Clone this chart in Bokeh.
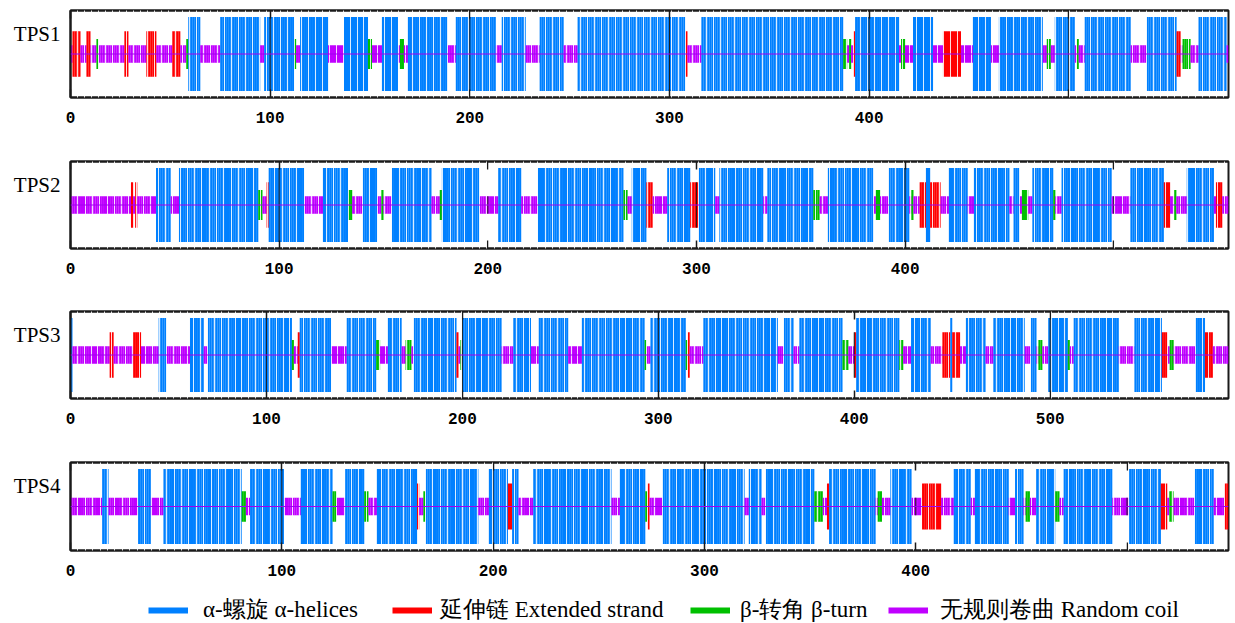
from bokeh.plotting import figure
from bokeh.models import (ColumnDataSource, FixedTicker, SingleIntervalTicker, LinearAxis,
                          Grid, Span, Legend, LegendItem, Range1d)
from bokeh.layouts import column
from bokeh.embed import file_html
from bokeh.resources import INLINE

# ---------------- data (run-length secondary structure) ----------------
protein_names = ["TPS1", "TPS2", "TPS3", "TPS4"]

TPS1_runs = ("c1 e4 c3 e2 c3 t1 c13 e2 c9 e5 c8 e4 c3 t1 h6 c10 h20 c2 h15 t1 c2 h14 c8 h12 t2 c5 "
             "h8 c1 t2 c2 h20 c4 h20 c3 h12 c7 h12 c7 h54 e1 c7 h71 t2 c1 t1 c1 e1 h22 c1 t2 c4 h10 "
             "c5 e9 c6 h9 c4 h22 c2 t2 c2 h10 c1 t1 c3 h23 c8 h15 e2 c1 t4 c4 h14 c1").split()
TPS2_runs = ("c29 e1 c1 e1 c9 h7 c4 h38 t2 c2 e1 h17 c9 h12 t2 c5 h7 c2 t1 c4 h19 c4 t1 h18 c9 h11 "
             "c8 h41 t2 c2 h7 e3 c7 h11 e4 h8 c2 h21 c2 h22 t3 c4 h22 c1 t2 c4 h10 c1 t1 c3 e3 h2 e5 "
             "c4 h9 c3 h17 c2 h3 c1 t3 c2 h10 t1 c3 h24 c9 h16 e3 c2 t1 c5 h13 c1 e3 c3").split()
TPS3_runs = ("h1 c19 e2 c10 e4 c9 h4 c12 h7 c2 h43 t1 c2 e1 h16 c8 h15 t2 c4 h7 c2 t3 c1 h22 e1 c1 "
             "t1 h20 c6 h9 c4 h15 c7 h32 t1 c2 h18 t1 e1 c7 h38 c3 h5 c3 h22 t3 c3 e1 h22 t2 c4 h10 "
             "c6 e4 h1 e4 c3 h10 c4 h16 c3 h3 c1 t2 c3 h10 t1 c2 h23 c8 h14 e3 c1 t2 c11 h5 e4 c8").split()
TPS4_runs = ("c15 h3 c14 h6 c6 h37 t2 c2 h16 c8 h15 t2 c4 h9 t2 c4 h19 e1 c2 t1 h25 c5 h9 e2 h3 c7 "
             "h37 c4 h12 t1 e1 c6 h39 c2 h6 c2 h23 t4 c2 e1 h22 c1 t2 c4 h10 c5 e9 c6 h8 c2 h16 c3 "
             "h4 c1 t2 c3 h9 t2 c2 h23 c8 h15 e3 c1 t2 c10 h9 c5 e2").split()
protein_runs = [TPS1_runs, TPS2_runs, TPS3_runs, TPS4_runs]

structure_codes = ["h", "e", "t", "c"]
structure_labels = ["α-螺旋 α-helices", "延伸链 Extended strand", "β-转角 β-turn", "无规则卷曲 Random coil"]
structure_colors = ["#0080FF", "#FF0000", "#00C000", "#C000FF"]
structure_half_heights = [37.0, 22.7, 15.0, 8.7]

axis_ticks = [0, 100, 200, 300, 400, 500]
hidden_tick_labels = {"TPS1": [500], "TPS2": [500], "TPS3": [], "TPS4": [500]}

# ---------------- layout / style ----------------
FIG_W = 1233
BORDER_L, BORDER_R = 70, 5
FRAME_W = FIG_W - BORDER_L - BORDER_R
fig_heights = [159, 150, 151, 135]
top_borders = [10, 2, 2, 2]
frame_heights = [87, 87, 87, 88]
Y_HALF = 43.5
NAME_Y = Y_HALF - 23
INK = "#1a1a1a"
legend_swatch_left = [148, 392, 690, 888]
legend_text_left = [203, 440, 740, 940]

half_of = dict(zip(structure_codes, structure_half_heights))
color_of = dict(zip(structure_codes, structure_colors))


def expand(runs):
    seq = []
    for r in runs:
        seq.extend([r[0]] * int(r[1:]))
    return seq


def style_x_axis(ax):
    ax.major_tick_in = 8
    ax.major_tick_out = 0
    ax.major_tick_line_color = INK
    ax.major_tick_line_width = 1.5
    ax.minor_tick_line_color = None
    ax.axis_line_color = INK
    ax.axis_line_width = 2


panels = []
for name, runs, H, TB, FH in zip(protein_names, protein_runs, fig_heights, top_borders, frame_heights):
    seq = expand(runs)
    L = len(seq)
    src = ColumnDataSource(dict(
        x=[i + 0.5 for i in range(L)],
        top=[half_of[s] for s in seq],
        bottom=[-half_of[s] for s in seq],
        color=[color_of[s] for s in seq],
    ))
    p = figure(width=FIG_W, height=H, x_range=Range1d(0, L), y_range=Range1d(-Y_HALF, Y_HALF),
               output_backend="svg", toolbar_location=None,
               x_axis_location=None, y_axis_location=None,
               min_border_left=BORDER_L, min_border_right=BORDER_R,
               min_border_top=TB, min_border_bottom=H - TB - FH)
    p.grid.visible = False
    p.outline_line_color = INK
    p.outline_line_width = 2

    p.vbar(x="x", top="top", bottom="bottom", width=1.04, fill_color="color",
           line_color=None, source=src)

    # dark tick lines through the bars at each hundred
    inner = [t for t in axis_ticks if 0 < t < L]
    tsrc = ColumnDataSource(dict(x=inner,
                                 y0=[-half_of[seq[t]] for t in inner],
                                 y1=[half_of[seq[t]] for t in inner]))
    p.segment(x0="x", x1="x", y0="y0", y1="y1", source=tsrc, line_color=INK, line_width=1)

    # white stripes (resampling look of the original image)
    stripes = Grid(dimension=0, ticker=SingleIntervalTicker(interval=3.5, num_minor_ticks=0),
                   grid_line_color="white", grid_line_alpha=0.85, grid_line_width=1, level="overlay")
    p.add_layout(stripes, "center")
    p.add_layout(Span(location=0, dimension="width", line_color="#A000F0", line_width=1,
                      level="overlay"), "center")

    ticks = [t for t in axis_ticks if t <= L]
    xb = LinearAxis(ticker=FixedTicker(ticks=ticks))
    style_x_axis(xb)
    xb.major_label_text_font = "Liberation Mono"
    xb.major_label_text_font_style = "bold"
    xb.major_label_text_font_size = "16px"
    xb.major_label_text_color = "black"
    xb.major_label_standoff = 14
    xb.major_label_overrides = {t: "" for t in hidden_tick_labels[name]}
    p.add_layout(xb, "below")

    xt = LinearAxis(ticker=FixedTicker(ticks=ticks))
    style_x_axis(xt)
    xt.major_label_text_font_size = "0px"
    xt.major_label_standoff = 0
    xt.major_label_overrides = {t: "" for t in ticks}
    p.add_layout(xt, "above")

    # protein name as the single label of the left axis
    ya = LinearAxis(ticker=FixedTicker(ticks=[NAME_Y]))
    ya.major_tick_in = 0
    ya.major_tick_out = 0
    ya.minor_tick_line_color = None
    ya.axis_line_color = INK
    ya.axis_line_width = 2
    ya.major_label_overrides = {NAME_Y: name}
    ya.major_label_text_font = "Liberation Serif"
    ya.major_label_text_font_size = "21px"
    ya.major_label_text_color = "black"
    ya.major_label_standoff = 10
    ya.major_label_orientation = "horizontal"
    p.add_layout(ya, "left")
    panels.append(p)

# ---------------- legend strip ----------------
lg = figure(width=FIG_W, height=28, x_range=Range1d(0, 1), y_range=Range1d(0, 1),
            output_backend="svg", toolbar_location=None,
            x_axis_location=None, y_axis_location=None,
            min_border_left=BORDER_L, min_border_right=BORDER_R,
            min_border_top=0, min_border_bottom=0)
lg.grid.visible = False
lg.outline_line_color = None
swatch_src = ColumnDataSource(dict(k=list(range(len(structure_codes))), color=structure_colors))
sw = lg.segment(x0="k", x1="k", y0=0, y1=0, line_color="color", line_width=6, source=swatch_src)
for i, lab in enumerate(structure_labels):
    leg = Legend(items=[LegendItem(label=lab, renderers=[sw], index=i)],
                 orientation="horizontal",
                 location=(legend_swatch_left[i] - BORDER_L, -2),
                 glyph_width=40, glyph_height=24, label_height=24,
                 label_standoff=legend_text_left[i] - legend_swatch_left[i] - 40,
                 padding=0, margin=0, border_line_color=None, background_fill_alpha=0,
                 label_text_font="Liberation Serif", label_text_font_size="23px",
                 label_text_color="black")
    lg.add_layout(leg)

layout = column(*panels, lg)
open("out.html", "w").write(file_html(layout, INLINE))
